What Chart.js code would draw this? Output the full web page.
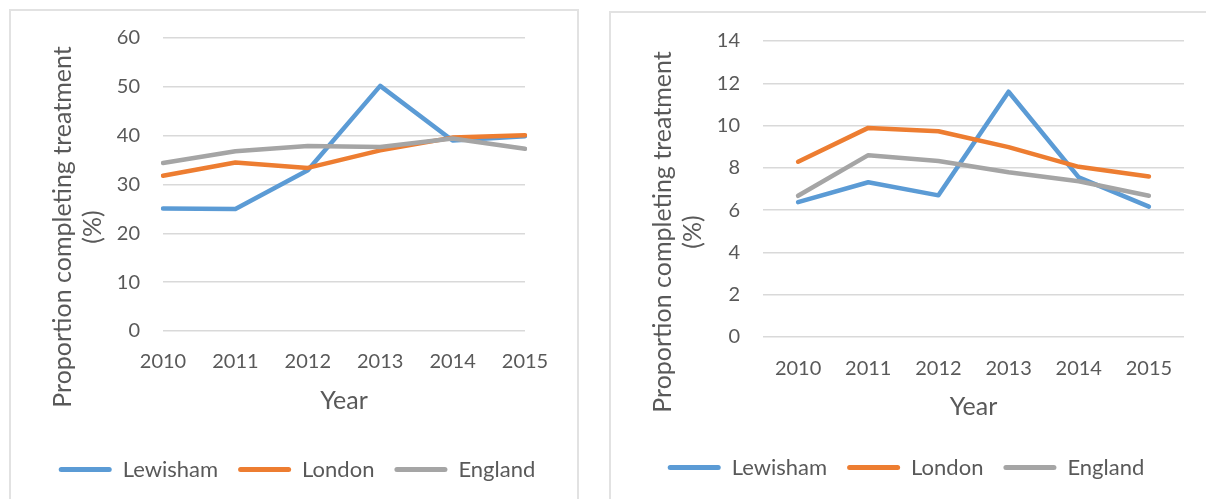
<!DOCTYPE html>
<html>
<head>
<meta charset="utf-8">
<script src="https://cdn.jsdelivr.net/npm/chart.js@4.4.1/dist/chart.umd.min.js"></script>
<style>
    html, body { margin: 0; padding: 0; background: #fff; overflow: hidden; width: 1206px; height: 499px; }
    .frame { position: absolute; border: 2px solid #e2e2e2; box-sizing: border-box; }
    .plot { position: absolute; top: 0; }
</style>
</head>
<body>
<div class="frame" style="left:9px; top:9px; width:570px; height:520px;"></div>
<div class="frame" style="left:609px; top:11px; width:700px; height:520px;"></div>
<div class="plot" style="left:0px; width:594px; height:520px;"><canvas id="chartLeft"></canvas></div>
<div class="plot" style="left:609px; width:594px; height:520px;"><canvas id="chartRight"></canvas></div>
<script>
// Shared categories
const years = ['2010', '2011', '2012', '2013', '2014', '2015'];
const seriesNames = ['Lewisham', 'London', 'England'];

// Left chart values (%)
const leftLewisham = [25.1, 25.0, 32.9, 50.2, 39.0, 39.9];
const leftLondon = [31.8, 34.5, 33.4, 37.0, 39.6, 40.1];
const leftEngland = [34.4, 36.8, 37.9, 37.7, 39.4, 37.3];
const leftTicks = { min: 0, max: 60, step: 10 };

// Right chart values (%)
const rightLewisham = [6.38, 7.32, 6.7, 11.6, 7.55, 6.17];
const rightLondon = [8.29, 9.89, 9.73, 8.98, 8.05, 7.59];
const rightEngland = [6.68, 8.6, 8.32, 7.79, 7.37, 6.68];
const rightTicks = { min: 0, max: 14, step: 2 };

const colors = ['#5B9BD5', '#ED7D31', '#A5A5A5'];
const textColor = '#595959';
const fontFamily = 'Lato, "Open Sans", sans-serif';

// Draws the two-line rotated y axis title where Excel puts it
const yTitlePlugin = {
    id: 'yTitle',
    afterDraw(chart, args, opts) {
        const ctx = chart.ctx;
        ctx.save();
        ctx.fillStyle = textColor;
        ctx.font = `${opts.size}px ${fontFamily}`;
        ctx.textAlign = 'center';
        ctx.textBaseline = 'middle';
        opts.lines.forEach((line, i) => {
            ctx.save();
            ctx.translate(opts.x[i], opts.y);
            ctx.rotate(-Math.PI / 2);
            ctx.fillText(line, 0, 0);
            ctx.restore();
        });
        ctx.restore();
    }
};

function makeDatasets(values) {
    return values.map((data, i) => ({
        label: seriesNames[i],
        data: data,
        borderColor: colors[i],
        backgroundColor: colors[i],
        borderWidth: 4.5,
        borderCapStyle: 'round',
        borderJoinStyle: 'round',
        pointRadius: 0,
        tension: 0,
        order: 3 - i
    }));
}

function buildChart(canvasId, values, ticks, cfg) {
    return new Chart(document.getElementById(canvasId), {
        type: 'line',
        data: { labels: years, datasets: makeDatasets(values) },
        plugins: [yTitlePlugin],
        options: {
            responsive: true,
            maintainAspectRatio: false,
            animation: false,
            layout: { padding: { top: cfg.top, bottom: cfg.bottom, left: 0, right: 0 } },
            plugins: {
                tooltip: { enabled: false },
                legend: {
                    position: 'bottom',
                    labels: {
                        color: textColor,
                        font: { family: fontFamily, size: 22 },
                        boxWidth: 53,
                        boxHeight: 5,
                        useBorderRadius: true,
                        borderRadius: 2.5,
                        padding: 20,
                        sort: (a, b) => a.datasetIndex - b.datasetIndex,
                        generateLabels: chart => Chart.defaults.plugins.legend.labels.generateLabels(chart)
                            .map(item => ({ ...item, lineWidth: 0 }))
                    }
                },
                yTitle: {
                    lines: ['Proportion completing treatment', '(%)'],
                    x: cfg.titleX,
                    y: cfg.titleY,
                    size: 25
                }
            },
            scales: {
                x: {
                    offset: cfg.offset,
                    grid: { display: false, drawTicks: false },
                    border: { display: false },
                    ticks: { color: textColor, font: { family: fontFamily, size: 20 }, padding: cfg.tickPad, maxRotation: 0 },
                    title: {
                        display: true,
                        text: 'Year',
                        color: textColor,
                        font: { family: fontFamily, size: 25 },
                        padding: { top: 0, bottom: cfg.yearPad }
                    },
                    afterFit: scale => { scale.height = cfg.xHeight; }
                },
                y: {
                    min: ticks.min,
                    max: ticks.max,
                    grid: { color: '#d9d9d9', lineWidth: 1.5, drawTicks: false },
                    border: { display: false },
                    ticks: { stepSize: ticks.step, color: textColor, font: { family: fontFamily, size: 20 }, padding: 23 },
                    afterFit: scale => { scale.width = cfg.yWidth; }
                },
                yRight: {
                    position: 'right',
                    display: true,
                    grid: { display: false, drawTicks: false },
                    border: { display: false },
                    ticks: { display: false },
                    afterFit: scale => { scale.width = cfg.rightWidth; }
                }
            }
        }
    });
}

buildChart('chartLeft', [leftLewisham, leftLondon, leftEngland], leftTicks, {
    top: 38, bottom: 29.5, offset: false, tickPad: 19, yearPad: 22.6,
    xHeight: 107.5, yWidth: 163, rightWidth: 69,
    titleX: [63, 93], titleY: 227
});

buildChart('chartRight', [rightLewisham, rightLondon, rightEngland], rightTicks, {
    top: 41, bottom: 31.5, offset: true, tickPad: 20, yearPad: 14.6,
    xHeight: 99.5, yWidth: 154, rightWidth: 19,
    titleX: [54, 84], titleY: 232
});
</script>
</body>
</html>
